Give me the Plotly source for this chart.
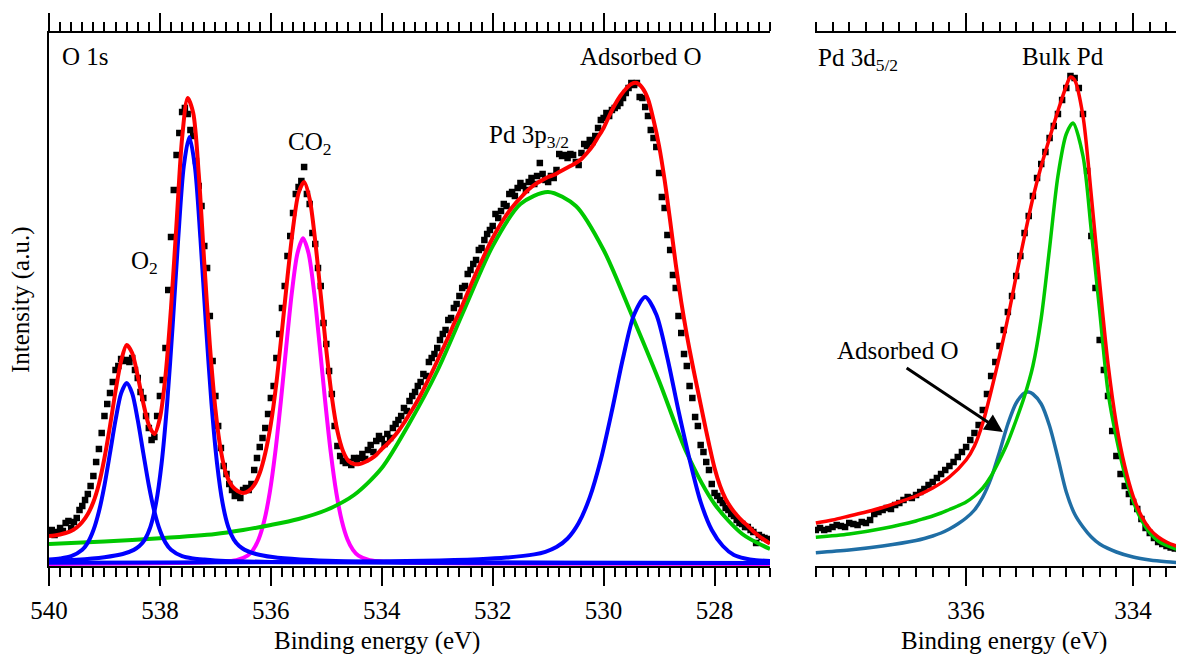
import plotly.graph_objects as go

FONT = "Liberation Serif, Times New Roman, Times, serif"

# ---------------- O 1s panel (left) ----------------
o1s_energy = [round(540.0 - 0.05 * i, 2) for i in range(261)]
o1s_counts = [
    33, 36, 31, 34, 38, 35, 43, 45, 38, 44, 48, 56, 60, 66, 72, 80, 90, 104, 117, 133,
    150, 162, 173, 184, 196, 200, 207, 205, 206, 204, 208, 196, 188, 174, 168, 150, 138, 126, 129, 150,
    170, 186, 218, 276, 329, 376, 411, 433, 454, 458, 452, 436, 430, 405, 380, 360, 320, 298, 250, 205,
    170, 140, 118, 100, 92, 82, 76, 70, 72, 68, 76, 78, 76, 82, 96, 108, 119, 128, 138, 152,
    168, 180, 208, 232, 258, 280, 310, 330, 353, 372, 379, 385, 399, 372, 362, 333, 322, 298, 280, 243,
    222, 195, 172, 140, 120, 110, 105, 103, 104, 101, 108, 106, 108, 112, 107, 116, 121, 114, 125, 130,
    127, 122, 132, 128, 138, 142, 146, 150, 158, 155, 165, 170, 174, 180, 184, 192, 190, 204, 208, 212,
    218, 226, 232, 236, 246, 248, 258, 262, 270, 278, 280, 292, 296, 302, 306, 316, 318, 326, 332, 336,
    340, 352, 348, 355, 362, 360, 372, 374, 370, 378, 383, 380, 376, 384, 388, 382, 390, 403, 392, 386,
    384, 390, 388, 396, 412, 410, 411, 408, 412, 411, 404, 401, 413, 422, 420, 426, 424, 430, 438, 446,
    448, 453, 450, 456, 458, 460, 463, 468, 473, 478, 483, 481, 483, 469, 468, 459, 450, 436, 428, 419,
    393, 369, 358, 331, 316, 291, 278, 250, 233, 212, 200, 180, 168, 149, 140, 121, 114, 104, 96, 82,
    73, 70, 66, 63, 58, 56, 52, 50, 46, 43, 42, 39, 39, 36, 34, 23, 31, 29, 28, 27,
    26,
]

o1s_fit_energy = [round(540.0 - 0.1 * i, 1) for i in range(131)]
o1s_fit = [
    30, 30.5, 31.5, 33, 35, 38.5, 44, 52, 64, 82,
    108, 140, 175, 205, 221, 213, 190, 163, 141, 132,
    148, 190, 258, 343, 428, 468, 453, 392, 303, 221,
    157, 115, 91, 80, 75, 73, 75, 81, 93, 113,
    142, 183, 235, 289, 338, 373, 384, 367, 325, 271,
    216, 169, 135, 115, 105, 102, 102, 104, 107, 111,
    117, 122, 128, 135, 143, 152, 161, 171, 182, 193,
    205, 217, 229, 242, 254, 267, 280, 293, 305, 317,
    328, 338, 347, 355, 362, 368, 374, 379, 383, 386,
    389, 391, 394, 397, 400, 403, 407, 413, 420, 429,
    438, 450, 461, 470, 477, 482, 483, 478, 467, 446,
    420, 386, 345, 302, 264, 231, 202, 175, 148, 122,
    98, 80, 67, 58, 51, 45, 40, 34.5, 30, 26,
    22.5,
]

o2_high_energy = [540.0, 539.8, 539.6, 539.4, 539.3, 539.2, 539.1, 539.0, 538.9, 538.8,
                  538.7, 538.6, 538.5, 538.4, 538.3, 538.2, 538.1, 538.0, 537.9, 537.8,
                  537.6, 537.4, 537.2, 537.0, 536.6, 535.6, 533.6, 530.6, 527.0]
o2_high = [6.4, 7.5, 9.8, 16.2, 23.4, 35.7, 54.5, 80.7, 113, 146,
           172.6, 183, 172.6, 146, 113, 80.7, 54.5, 35.7, 23.4, 16.2,
           9.8, 7.5, 6.4, 5.6, 4.7, 3.8, 3.3, 3.1, 3.0]

o2_low_energy = [540.0, 539.5, 539.0, 538.67, 538.47, 538.37, 538.27, 538.17, 538.07, 537.97,
                 537.87, 537.77, 537.67, 537.57, 537.47, 537.37, 537.27, 537.17, 537.07, 536.97,
                 536.87, 536.77, 536.67, 536.57, 536.47, 536.27, 535.97, 535.47, 534.97, 534.47,
                 533.47, 531.47, 527.0]
o2_low = [5.2, 6.3, 8.8, 12.0, 16.1, 19.9, 26.6, 39.4, 62.8, 102.5,
          162.4, 241, 327.6, 399.8, 429, 399.8, 327.6, 241, 162.4, 102.5,
          62.8, 39.4, 26.6, 19.9, 16.1, 12.0, 8.9, 6.4, 5.2, 4.5,
          3.9, 3.4, 3.1]

co2_energy = [540.0, 538.42, 537.42, 536.92, 536.62, 536.42, 536.32, 536.22, 536.12, 536.02,
              535.92, 535.82, 535.72, 535.62, 535.52, 535.42, 535.32, 535.22, 535.12, 535.02,
              534.92, 534.82, 534.72, 534.62, 534.52, 534.42, 534.22, 533.92, 533.42, 532.42,
              530.42, 527.0]
co2 = [2.1, 2.6, 3.25, 4.2, 5.8, 10.3, 16.1, 26.8, 45, 73.4,
       113.7, 164.5, 220.7, 274, 312.7, 327.7, 312.7, 274, 220.7, 164.5,
       113.7, 73.4, 45, 26.8, 16.1, 10.3, 5.8, 4.2, 3.25, 2.6,
       2.2, 2.0]

pd3p_energy = [540.0, 539.0, 538.0, 537.0, 536.5, 536.0, 535.5, 535.0, 534.5, 534.0,
               533.5, 533.0, 532.5, 532.0, 531.5, 531.0, 530.5, 530.0, 529.5, 529.0,
               528.5, 528.0, 527.5, 527.0]
pd3p = [22, 24.5, 27.7, 32, 36, 41, 47, 56, 71, 98,
        143, 195, 258, 320, 362, 374, 360, 316, 252, 185,
        113, 62, 32, 17]

ads_o_energy = [540.0, 535.25, 533.25, 532.25, 531.75, 531.25, 531.05, 530.85, 530.65, 530.45,
                530.25, 530.05, 529.85, 529.65, 529.45, 529.25, 529.05, 528.85, 528.65, 528.45,
                528.25, 528.05, 527.85, 527.65, 527.45, 527.25, 527.0]
ads_o = [3.3, 4.0, 5.2, 6.8, 8.4, 11.6, 14.2, 18.9, 27.5, 43,
         68.6, 106.5, 155.2, 208, 251.5, 269, 251.5, 208, 155.2, 106.5,
         64, 36, 20, 11, 7.5, 5.8, 5]

# ---------------- Pd 3d5/2 panel (right) ----------------
pd3d_energy = [round(337.8 - 0.05 * i, 2) for i in range(89)]
pd3d_counts = [
    36, 38, 36, 37, 39, 41, 40, 39, 43, 42,
    41, 44, 43, 46, 52, 54, 56, 58, 57, 61,
    63, 66, 69, 68, 71, 74, 77, 81, 84, 88,
    92, 96, 100, 104, 109, 114, 119, 126, 133, 141,
    156, 172, 190, 204, 220, 236, 254, 270, 290, 310,
    333, 350, 370, 388, 402, 414, 428, 440, 452, 466,
    478, 490, 488, 478, 452, 395, 330, 278, 226, 196,
    170, 135, 110, 92, 80, 72, 64, 57, 47, 38,
    33, 28, 24, 22, 20, 18.5, 17.5, 17, 16,
]

pd3d_fit_energy = [337.8, 337.6, 337.4, 337.2, 337.0, 336.8, 336.6, 336.4, 336.2, 336.0,
                   335.9, 335.8, 335.7, 335.6, 335.5, 335.4, 335.3, 335.2, 335.1, 335.0,
                   334.9, 334.8, 334.75, 334.7, 334.6, 334.5, 334.4, 334.3, 334.2, 334.1,
                   334.0, 333.9, 333.8, 333.7, 333.6, 333.5, 333.4]
pd3d_fit = [43, 46, 50, 54, 58.5, 64, 70, 78, 89, 106,
            120, 143, 175, 210, 248, 290, 330, 368, 400, 428,
            455, 480, 489, 486, 450, 370, 283, 202, 142, 100,
            70, 50, 37, 29, 24, 20.5, 18]

bulk_energy = [337.8, 337.4, 337.0, 336.6, 336.5, 336.4, 336.3, 336.2, 336.1, 336.0,
               335.9, 335.8, 335.7, 335.6, 335.5, 335.4, 335.3, 335.2, 335.1, 335.0,
               334.9, 334.8, 334.72, 334.6, 334.5, 334.4, 334.3, 334.2, 334.1, 334.0,
               333.9, 333.8, 333.7, 333.6, 333.5, 333.4]
bulk = [28.7, 32, 37.5, 45, 47.5, 50, 53, 56.5, 60, 64,
        70, 78, 90, 106, 124, 146, 170, 200, 248, 318,
        390, 432, 443, 410, 335, 255, 174, 128, 92, 65,
        46, 33, 25, 20.5, 17.5, 15.5]

pd_ads_energy = [337.8, 337.4, 337.0, 336.6, 336.5, 336.4, 336.3, 336.2, 336.1, 336.0,
                 335.9, 335.8, 335.7, 335.6, 335.5, 335.4, 335.3, 335.25, 335.2, 335.1,
                 335.0, 334.9, 334.8, 334.7, 334.6, 334.5, 334.4, 334.2, 334.0, 333.8,
                 333.6, 333.4]
pd_ads = [13.3, 16, 20, 25.5, 27.5, 30, 33, 37, 42, 48,
          56, 69, 88, 114, 142, 163, 173, 174, 172, 162,
          140, 108, 74, 52, 39, 29, 22, 14, 9, 6,
          4.2, 3]

left_ticks_mid = [539, 537, 535, 533, 531, 529, 527]
right_ticks_mid = [337, 335, 333]

RED = "#ff0000"
BLUE = "#0000ff"
GREEN = "#00c800"
MAGENTA = "#ff00ff"
TEAL = "#1f6ea5"

fig = go.Figure()


def curve(x, y, color, width, xa, ya):
    return go.Scatter(x=x, y=y, mode="lines", xaxis=xa, yaxis=ya, hoverinfo="skip",
                      line=dict(color=color, width=width, shape="spline", smoothing=0.8))


def points(x, y, xa, ya):
    return go.Scatter(x=x, y=y, mode="markers", xaxis=xa, yaxis=ya, hoverinfo="skip",
                      marker=dict(symbol="square", size=6.5, color="black", line=dict(width=0)))


# left panel
fig.add_trace(points(o1s_energy, o1s_counts, "x", "y"))
fig.add_trace(curve(co2_energy, co2, MAGENTA, 4, "x", "y"))
fig.add_trace(curve(pd3p_energy, pd3p, GREEN, 4, "x", "y"))
fig.add_trace(curve(o2_high_energy, o2_high, BLUE, 4, "x", "y"))
fig.add_trace(curve(o2_low_energy, o2_low, BLUE, 4, "x", "y"))
fig.add_trace(curve(ads_o_energy, ads_o, BLUE, 4, "x", "y"))
fig.add_trace(curve(o1s_fit_energy, o1s_fit, RED, 4, "x", "y"))

# right panel
fig.add_trace(points(pd3d_energy, pd3d_counts, "x2", "y2"))
fig.add_trace(curve(pd_ads_energy, pd_ads, TEAL, 3.5, "x2", "y2"))
fig.add_trace(curve(bulk_energy, bulk, GREEN, 3.5, "x2", "y2"))
fig.add_trace(curve(pd3d_fit_energy, pd3d_fit, RED, 3.5, "x2", "y2"))

tickfont = dict(family=FONT, size=25, color="black")
xcommon = dict(showline=True, linecolor="black", linewidth=2, mirror="ticks",
               ticks="outside", ticklen=18, tickwidth=2, tickcolor="black",
               tick0=0, dtick=2, showgrid=False, zeroline=False,
               tickfont=tickfont, ticklabelstandoff=3,
               minor=dict(ticks="outside", ticklen=9, tickwidth=1.6, tickcolor="black",
                          tick0=0, dtick=0.2, showgrid=False))
midcommon = dict(ticks="outside", ticklen=13, tickwidth=2, tickcolor="black",
                 mirror="ticks", showticklabels=False, showline=False,
                 showgrid=False, zeroline=False)

# the page body adds an 8 px offset, so the figure is 8 px smaller than the window
W = 1135.0
fig.update_layout(
    width=1176, height=646,
    margin=dict(l=41, r=0, t=25, b=88),
    paper_bgcolor="white", plot_bgcolor="white",
    showlegend=False,
    font=dict(family=FONT, size=25, color="black"),
    xaxis=dict(domain=[0, 721 / W], range=[540, 527], anchor="y", **xcommon),
    xaxis2=dict(domain=[766 / W, 1], range=[337.81, 333.39], anchor="y2", **xcommon),
    xaxis3=dict(overlaying="x", anchor="y", range=[540, 527], tickvals=left_ticks_mid, **midcommon),
    xaxis4=dict(overlaying="x2", anchor="y2", range=[337.81, 333.39], tickvals=right_ticks_mid, **midcommon),
    yaxis=dict(domain=[0, 1], range=[0, 533], anchor="x", showline=True, linecolor="black",
               linewidth=2, ticks="", showticklabels=False, showgrid=False, zeroline=False),
    yaxis2=dict(domain=[0, 1], range=[0, 533], anchor="x2", showline=False,
                ticks="", showticklabels=False, showgrid=False, zeroline=False),
)

ann = dict(showarrow=False, font=dict(family=FONT, size=25, color="black"),
           xanchor="left", yanchor="middle")
fig.add_annotation(x=539.8, y=510, xref="x", yref="y", text="O 1s", **ann)
fig.add_annotation(x=538.56, y=304, xref="x", yref="y", text="O<sub>2</sub>", **ann)
fig.add_annotation(x=535.72, y=423, xref="x", yref="y", text="CO<sub>2</sub>", **ann)
fig.add_annotation(x=532.1, y=430, xref="x", yref="y", text="Pd 3p<sub>3/2</sub>", **ann)
fig.add_annotation(x=530.46, y=510, xref="x", yref="y", text="Adsorbed O", **ann)
fig.add_annotation(x=(816 - 49) / W, y=(566 - 60) / 533.0, xref="paper", yref="paper",
                   text="Pd 3d<sub>5/2</sub>", **ann)
fig.add_annotation(x=335.35, y=510, xref="x2", yref="y2", text="Bulk Pd", **ann)
fig.add_annotation(x=337.57, y=216, xref="x2", yref="y2", text="Adsorbed O", **ann)
fig.add_annotation(x=335.56, y=134, xref="x2", yref="y2", text="", showarrow=True,
                   ax=336.73, ay=199, axref="x2", ayref="y2",
                   arrowhead=2, arrowsize=1.2, arrowwidth=3, arrowcolor="black", standoff=0)

fig.add_annotation(x=(377 - 49) / W, y=-0.14, xref="paper", yref="paper",
                   text="Binding energy (eV)", showarrow=False, xanchor="center", yanchor="middle",
                   font=dict(family=FONT, size=25, color="black"))
fig.add_annotation(x=(1004 - 49) / W, y=-0.14, xref="paper", yref="paper",
                   text="Binding energy (eV)", showarrow=False, xanchor="center", yanchor="middle",
                   font=dict(family=FONT, size=25, color="black"))
fig.add_annotation(x=(21 - 49) / W, y=(566 - 300) / 533.0, xref="paper", yref="paper",
                   text="Intensity (a.u.)", showarrow=False, textangle=-90,
                   xanchor="center", yanchor="middle",
                   font=dict(family=FONT, size=25, color="black"))

fig.write_html("out.html")
